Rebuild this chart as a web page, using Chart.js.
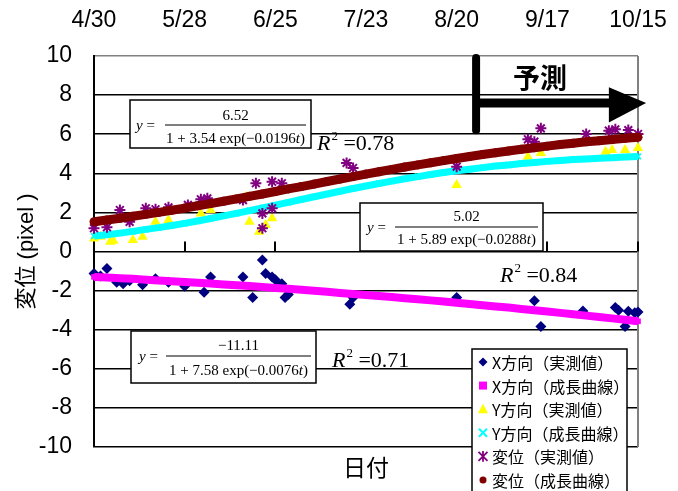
<!DOCTYPE html>
<html>
<head>
<meta charset="utf-8">
<script src="https://cdn.jsdelivr.net/npm/chart.js@4.4.1/dist/chart.umd.min.js"></script>
<style>
  html, body { margin: 0; padding: 0; background: #fff; }
  #wrap { width: 678px; height: 491px; }
</style>
</head>
<body>
<div id="wrap"><canvas id="c" width="678" height="491"></canvas></div>
<script>
// ---- data (day 0 = 4/30) ----
const dateLabels = ['4/30', '5/28', '6/25', '7/23', '8/20', '9/17', '10/15'];

const seriesNames = [
  'X方向（実測値）', 'X方向（成長曲線）',
  'Y方向（実測値）', 'Y方向（成長曲線）',
  '変位（実測値）', '変位（成長曲線）'
];

// growth curves, sampled every 4 days
const curveDays = [0, 4, 8, 12, 16, 20, 24, 28, 32, 36, 40, 44, 48, 52, 56, 60, 64, 68, 72, 76, 80,
  84, 88, 92, 96, 100, 104, 108, 112, 116, 120, 124, 128, 132, 136, 140, 144, 148, 152, 156, 160, 164, 168];
const xGrowth = [-1.30, -1.33, -1.37, -1.40, -1.44, -1.48, -1.52, -1.56, -1.60, -1.64, -1.69, -1.73, -1.77,
  -1.82, -1.87, -1.91, -1.96, -2.01, -2.06, -2.12, -2.17, -2.22, -2.28, -2.33, -2.39, -2.44, -2.50, -2.56,
  -2.62, -2.68, -2.75, -2.81, -2.87, -2.94, -3.01, -3.07, -3.14, -3.21, -3.28, -3.35, -3.42, -3.49, -3.57];
const yGrowth = [0.79, 0.86, 0.94, 1.03, 1.13, 1.22, 1.33, 1.44, 1.56, 1.69, 1.82, 1.95, 2.09, 2.23, 2.37,
  2.51, 2.66, 2.80, 2.94, 3.08, 3.22, 3.35, 3.48, 3.60, 3.72, 3.83, 3.94, 4.04, 4.13, 4.21, 4.29, 4.37,
  4.43, 4.50, 4.55, 4.61, 4.65, 4.70, 4.73, 4.77, 4.80, 4.83, 4.86];
const dispGrowth = [1.52, 1.61, 1.70, 1.80, 1.90, 2.00, 2.11, 2.22, 2.34, 2.45, 2.57, 2.69, 2.82, 2.94, 3.07,
  3.20, 3.32, 3.45, 3.58, 3.71, 3.83, 3.96, 4.08, 4.20, 4.32, 4.43, 4.54, 4.65, 4.76, 4.86, 4.96, 5.05,
  5.14, 5.23, 5.31, 5.39, 5.47, 5.54, 5.61, 5.67, 5.73, 5.79, 5.84];

// measured values
const xMeasDays = [0, 2, 4, 7, 9, 11, 15, 19, 23, 28, 34, 36, 46, 49, 52, 53, 55, 56, 57, 58, 59, 60,
  79, 80, 112, 136, 138, 151, 161, 162, 164, 165, 167, 168];
const xMeasVals = [-1.13, -1.25, -0.87, -1.57, -1.65, -1.50, -1.70, -1.39, -1.57, -1.78, -2.09, -1.30,
  -1.30, -2.35, -0.43, -1.13, -1.30, -1.45, -1.75, -1.65, -2.35, -2.20,
  -2.70, -2.35, -2.35, -2.52, -3.83, -3.04, -2.87, -3.00, -3.83, -3.05, -3.13, -3.10];

const yMeasDays = [0, 2, 5, 6, 12, 15, 19, 23, 33, 36, 47, 48, 51, 53, 55, 112, 134, 138, 158, 160, 164, 168];
const yMeasVals = [0.67, 0.75, 0.50, 0.55, 0.59, 0.76, 1.52, 1.61, 1.95, 2.12, 2.80, 1.52, 1.01, 1.36, 1.70,
  3.40, 4.85, 5.04, 5.10, 5.19, 5.19, 5.29];

const dispMeasDays = [0, 4, 8, 11, 16, 19, 23, 29, 33, 35, 46, 50, 52, 52, 55, 55, 58, 78, 80, 112,
  134, 136, 138, 152, 159, 161, 165, 168];
const dispMeasVals = [1.19, 1.24, 2.12, 1.52, 2.21, 2.16, 2.26, 2.38, 2.67, 2.72, 2.63, 3.49, 1.95, 1.19,
  2.21, 3.57, 3.49, 4.53, 4.27, 4.34, 5.74, 5.62, 6.30, 6.01, 6.18, 6.25, 6.21, 6.01];

// logistic fit labels
const fitNumerators = ['6.52', '5.02', '\u221211.11'];
const fitDenominators = ['1 + 3.54 exp(\u22120.0196', '1 + 5.89 exp(\u22120.0288', '1 + 7.58 exp(\u22120.0076'];
const fitR2 = ['0.78', '0.84', '0.71'];
const forecastLabel = '予測';

// ---- helpers ----
const SANS = '"Liberation Sans", Arial, sans-serif';
const JP = '"Noto Sans CJK JP", sans-serif';
const SERIF = '"Liberation Serif", "Times New Roman", serif';

function toPoints(days, vals) {
  return days.map((d, i) => ({ x: d, y: vals[i] }));
}

function drawMarker(ctx, style, x, y, r, color, lw) {
  ctx.save();
  ctx.fillStyle = color;
  ctx.strokeStyle = color;
  ctx.lineWidth = lw || 1.5;
  ctx.beginPath();
  switch (style) {
    case 'rectRot':
      ctx.moveTo(x, y - r); ctx.lineTo(x + r, y); ctx.lineTo(x, y + r); ctx.lineTo(x - r, y);
      ctx.closePath(); ctx.fill(); break;
    case 'rect':
      ctx.fillRect(x - r, y - r, 2 * r, 2 * r); break;
    case 'triangle':
      ctx.moveTo(x, y - r * 1.1); ctx.lineTo(x + r, y + r * 0.8); ctx.lineTo(x - r, y + r * 0.8);
      ctx.closePath(); ctx.fill(); break;
    case 'crossRot':
      ctx.moveTo(x - r, y - r); ctx.lineTo(x + r, y + r);
      ctx.moveTo(x + r, y - r); ctx.lineTo(x - r, y + r); ctx.stroke(); break;
    case 'star':
      ctx.moveTo(x - r, y - r); ctx.lineTo(x + r, y + r);
      ctx.moveTo(x + r, y - r); ctx.lineTo(x - r, y + r);
      ctx.moveTo(x, y - r * 1.2); ctx.lineTo(x, y + r * 1.2); ctx.stroke(); break;
    default:
      ctx.arc(x, y, r, 0, Math.PI * 2); ctx.fill();
  }
  ctx.restore();
}

// equation boxes and R² labels (pixel layout)
const fitBoxes = [
  { l: 130, t: 100, r: 311, b: 148, eqX: 136, lineL: 165, lineR: 306, lineY: 125, numY: 120, denY: 143, r2x: 317, r2y: 150 },
  { l: 360, t: 203, r: 543, b: 251, eqX: 367, lineL: 395, lineR: 538, lineY: 227, numY: 221, denY: 244, r2x: 500, r2y: 282 },
  { l: 131, t: 331, r: 316, b: 383, eqX: 139, lineL: 166, lineR: 311, lineY: 356, numY: 350, denY: 375, r2x: 332, r2y: 367 }
];

function drawFitBox(ctx, bx, numer, denom, r2) {
  ctx.save();
  ctx.fillStyle = '#fff';
  ctx.fillRect(bx.l, bx.t, bx.r - bx.l, bx.b - bx.t);
  ctx.strokeStyle = '#000';
  ctx.lineWidth = 1.5;
  ctx.strokeRect(bx.l, bx.t, bx.r - bx.l, bx.b - bx.t);

  ctx.fillStyle = '#000';
  ctx.textBaseline = 'alphabetic';
  ctx.textAlign = 'left';
  // y =
  ctx.font = 'italic 15px ' + SERIF;
  ctx.fillText('y', bx.eqX, bx.lineY + 5);
  const yw = ctx.measureText('y').width;
  ctx.font = '15px ' + SERIF;
  ctx.fillText(' =', bx.eqX + yw, bx.lineY + 5);

  // fraction bar
  ctx.lineWidth = 1.2;
  ctx.beginPath();
  ctx.moveTo(bx.lineL, bx.lineY);
  ctx.lineTo(bx.lineR, bx.lineY);
  ctx.stroke();

  const cx = (bx.lineL + bx.lineR) / 2;
  ctx.textAlign = 'center';
  ctx.fillText(numer, cx, bx.numY);

  // denominator with italic t
  ctx.textAlign = 'left';
  ctx.font = '15px ' + SERIF;
  const w1 = ctx.measureText(denom).width;
  const w3 = ctx.measureText(')').width;
  ctx.font = 'italic 15px ' + SERIF;
  const w2 = ctx.measureText('t').width;
  let sx = cx - (w1 + w2 + w3) / 2;
  ctx.font = '15px ' + SERIF;
  ctx.fillText(denom, sx, bx.denY);
  ctx.font = 'italic 15px ' + SERIF;
  ctx.fillText('t', sx + w1, bx.denY);
  ctx.font = '15px ' + SERIF;
  ctx.fillText(')', sx + w1 + w2, bx.denY);
  ctx.restore();

  // R² = value
  ctx.save();
  ctx.fillStyle = '#000';
  ctx.textBaseline = 'alphabetic';
  ctx.textAlign = 'left';
  ctx.font = 'italic 22px ' + SERIF;
  ctx.fillText('R', bx.r2x, bx.r2y);
  let px = bx.r2x + ctx.measureText('R').width + 1;
  ctx.font = '13px ' + SERIF;
  ctx.fillText('2', px, bx.r2y - 10);
  px += ctx.measureText('2').width;
  ctx.font = '22px ' + SERIF;
  ctx.fillText(' =' + r2, px, bx.r2y);
  ctx.restore();
}

const decorations = {
  id: 'decorations',
  beforeDatasetsDraw(chart) {
    const { ctx, chartArea: a, scales: { x, y } } = chart;
    ctx.save();
    // right frame edge
    ctx.strokeStyle = '#808080';
    ctx.lineWidth = 2;
    ctx.beginPath();
    ctx.moveTo(a.right, a.top);
    ctx.lineTo(a.right, a.bottom);
    ctx.stroke();
    // tick marks on the zero line
    const y0 = y.getPixelForValue(0);
    ctx.strokeStyle = '#000';
    ctx.lineWidth = 2;
    x.ticks.forEach(t => {
      const px = Math.round(x.getPixelForValue(t.value));
      ctx.beginPath();
      ctx.moveTo(px, y0 - 10);
      ctx.lineTo(px, y0);
      ctx.stroke();
    });
    ctx.restore();
  },
  afterDraw(chart) {
    const { ctx, scales: { x, y } } = chart;

    // forecast arrow
    ctx.save();
    ctx.strokeStyle = '#000';
    ctx.fillStyle = '#000';
    const ax = x.getPixelForValue(118);
    ctx.lineCap = 'round';
    ctx.lineWidth = 8;
    ctx.beginPath();
    ctx.moveTo(ax, y.getPixelForValue(10) + 2);
    ctx.lineTo(ax, y.getPixelForValue(6.2));
    ctx.stroke();
    const sy = y.getPixelForValue(7.6);
    ctx.lineCap = 'butt';
    ctx.lineWidth = 9;
    ctx.beginPath();
    ctx.moveTo(ax, sy);
    ctx.lineTo(x.getPixelForValue(159.5), sy);
    ctx.stroke();
    const hb = x.getPixelForValue(159);
    ctx.beginPath();
    ctx.moveTo(hb, y.getPixelForValue(8.4));
    ctx.lineTo(x.getPixelForValue(170.5), sy);
    ctx.lineTo(hb, y.getPixelForValue(6.6));
    ctx.closePath();
    ctx.fill();
    ctx.font = 'bold 27px ' + JP;
    ctx.textAlign = 'center';
    ctx.textBaseline = 'middle';
    ctx.fillText(forecastLabel, x.getPixelForValue(137.7), y.getPixelForValue(8.87));
    ctx.restore();

    // fit equations
    fitBoxes.forEach((bx, i) => drawFitBox(ctx, bx, fitNumerators[i], fitDenominators[i], fitR2[i]));

    // legend
    ctx.save();
    const L = 472, T = 349, R = 627, B = 500;
    ctx.fillStyle = '#fff';
    ctx.fillRect(L, T, R - L, B - T);
    ctx.strokeStyle = '#000';
    ctx.lineWidth = 1.5;
    ctx.strokeRect(L, T, R - L, B - T);
    ctx.font = '16px ' + JP;
    ctx.textAlign = 'left';
    ctx.textBaseline = 'middle';
    chart.data.datasets.forEach((ds, i) => {
      const cy = 362 + i * 23.6;
      drawMarker(ctx, ds.pointStyle, 483, cy, ds.legendRadius, ds.pointBorderColor || ds.borderColor, ds.legendLine);
      ctx.fillStyle = '#000';
      ctx.fillText(ds.label, 492, cy + 1);
    });
    ctx.restore();
  }
};

const datasets = [
  { label: seriesNames[0], data: toPoints(xMeasDays, xMeasVals), pointStyle: 'rectRot', pointRadius: 5.5,
    backgroundColor: '#000080', borderColor: '#000080', pointBorderWidth: 0, showLine: false, order: 6,
    legendRadius: 4.5 },
  { label: seriesNames[1], data: toPoints(curveDays, xGrowth), pointStyle: 'rect', pointRadius: 4,
    backgroundColor: '#FF00FF', borderColor: '#FF00FF', pointBorderWidth: 0, showLine: true, borderWidth: 8,
    order: 5, legendRadius: 4 },
  { label: seriesNames[2], data: toPoints(yMeasDays, yMeasVals), pointStyle: 'triangle', pointRadius: 6,
    backgroundColor: '#FFFF00', borderColor: '#FFFF00', pointBorderWidth: 0, showLine: false, order: 4,
    legendRadius: 5 },
  { label: seriesNames[3], data: toPoints(curveDays, yGrowth), pointStyle: 'crossRot', pointRadius: 4,
    backgroundColor: '#00FFFF', borderColor: '#00FFFF', pointBorderWidth: 2, showLine: true, borderWidth: 7,
    order: 3, legendRadius: 4, legendLine: 2 },
  { label: seriesNames[4], data: toPoints(dispMeasDays, dispMeasVals), pointStyle: 'star', pointRadius: 5.5,
    backgroundColor: '#800080', borderColor: '#800080', pointBorderWidth: 2, showLine: false, order: 2,
    legendRadius: 4.5, legendLine: 1.8 },
  { label: seriesNames[5], data: toPoints(curveDays, dispGrowth), pointStyle: 'circle', pointRadius: 4.5,
    backgroundColor: '#800000', borderColor: '#800000', pointBorderWidth: 0, showLine: true, borderWidth: 9,
    order: 1, legendRadius: 3.5 }
];
datasets.forEach(d => { d.clip = false; d.pointHoverRadius = d.pointRadius; });

// keep the plot area fixed: no extra room for overhanging tick labels
function fixHorizontal(height) {
  return s => { s.height = height; s.paddingLeft = 0; s.paddingRight = 0; };
}

new Chart(document.getElementById('c'), {
  type: 'scatter',
  data: { datasets },
  options: {
    responsive: false,
    animation: false,
    events: [],
    layout: { padding: { left: 0, right: 40, top: 0, bottom: 0 } },
    plugins: {
      legend: { display: false },
      tooltip: { enabled: false },
      title: { display: false }
    },
    scales: {
      x: {
        type: 'linear', position: 'top', min: 0, max: 168,
        ticks: {
          stepSize: 28, autoSkip: false, maxRotation: 0, padding: 14, color: '#000',
          font: { family: SANS, size: 23 },
          callback: (v, i) => dateLabels[i]
        },
        grid: { display: false },
        border: { display: false },
        afterFit: fixHorizontal(56)
      },
      xb: {
        type: 'linear', position: 'bottom', min: 0, max: 168,
        ticks: { display: false },
        grid: { display: false },
        border: { display: false },
        title: { display: true, text: '日付', color: '#000', font: { family: JP, size: 23 }, padding: { top: 0, bottom: 10 } },
        afterFit: fixHorizontal(44)
      },
      y: {
        min: -10, max: 10,
        ticks: { stepSize: 2, padding: 22, color: '#000', font: { family: SANS, size: 23 } },
        grid: {
          color: c => (c.tick && c.tick.value === 10 ? '#808080' : '#000'),
          lineWidth: 1.5, drawTicks: false
        },
        border: { color: '#000', width: 2 },
        title: { display: true, text: '変位 (pixel )', color: '#000', font: { family: SANS + ', ' + JP, size: 22 }, padding: { top: 14, bottom: 0 } },
        afterFit: s => { s.width = 94; s.paddingTop = 0; s.paddingBottom = 0; }
      }
    }
  },
  plugins: [decorations]
});
</script>
</body>
</html>
